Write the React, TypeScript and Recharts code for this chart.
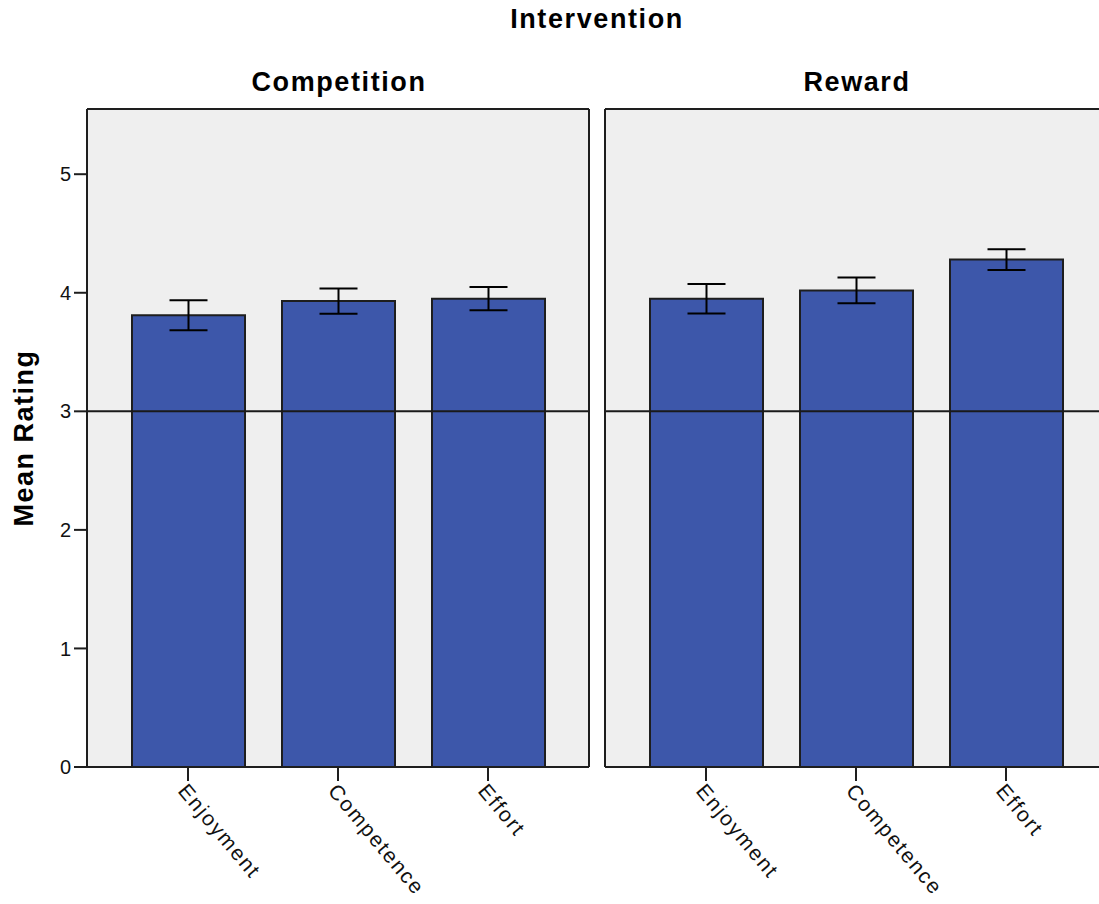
import React from 'react';
import { BarChart, Bar, XAxis, YAxis, CartesianGrid, ErrorBar, ReferenceLine, Label } from 'recharts';

// values
const categories = ['Enjoyment', 'Competence', 'Effort'];
const competitionMeans = [3.81, 3.93, 3.95];
const competitionErr = [0.127, 0.106, 0.098];
const rewardMeans = [3.95, 4.02, 4.28];
const rewardErr = [0.124, 0.109, 0.087];
const yTicks = [0, 1, 2, 3, 4, 5];
const yMax = 5.55;
const midpoint = 3;

const FONT = '"Liberation Sans", Arial, sans-serif';
const FRAME = '#1e1e1e';
const BAR_BLUE = '#3d57aa';
const PANEL_BG = '#efefef';

const competitionData = categories.map((name, i) => ({ name, mean: competitionMeans[i], err: competitionErr[i] }));
const rewardData = categories.map((name, i) => ({ name, mean: rewardMeans[i], err: rewardErr[i] }));

const SlantTick = (props: any) => {
  const { x, y, payload } = props;
  return (
    <g transform={`translate(${x},${y})`}>
      <text
        transform="rotate(50)"
        x={1}
        dy="0.72em"
        textAnchor="start"
        fontFamily={FONT}
        fontSize={21}
        letterSpacing={1.8}
        fill="#111"
      >
        {payload.value}
      </text>
    </g>
  );
};

const MeanRatingLabel = (props: any) => {
  const { viewBox } = props;
  const cx = 33;
  const cy = viewBox.y + viewBox.height / 2;
  return (
    <text
      x={cx}
      y={cy}
      transform={`rotate(-90, ${cx}, ${cy})`}
      textAnchor="middle"
      fontFamily={FONT}
      fontWeight="bold"
      fontSize={27}
      letterSpacing={1.5}
      fill="#000"
    >
      Mean Rating
    </text>
  );
};

const titleStyle: React.CSSProperties = {
  position: 'absolute',
  fontFamily: FONT,
  fontWeight: 'bold',
  fontSize: 27,
  letterSpacing: 1.6,
  lineHeight: '27px',
  textAlign: 'center',
  color: '#000',
  whiteSpace: 'nowrap',
};

type PanelProps = {
  data: { name: string; mean: number; err: number }[];
  width: number;
  marginLeft: number;
  marginRight: number;
  showTicks: boolean;
};

// axes of size 0 are not drawn, so the frame axes get 1px and the margins give it back
const Panel: React.FC<PanelProps> = ({ data, width, marginLeft, marginRight, showTicks }) => (
  <BarChart
    width={width}
    height={904}
    data={data}
    margin={{ top: 108, right: marginRight, bottom: 0, left: marginLeft }}
    barSize={113}
  >
    <CartesianGrid fill={PANEL_BG} horizontal={false} vertical={false} />
    <XAxis
      xAxisId="bottom"
      dataKey="name"
      height={137}
      padding={{ left: 26, right: 26 }}
      axisLine={{ stroke: FRAME, strokeWidth: 2 }}
      tickLine={{ stroke: FRAME, strokeWidth: 2 }}
      tickSize={14}
      tickMargin={0}
      interval={0}
      tick={<SlantTick />}
    />
    <XAxis
      xAxisId="top"
      orientation="top"
      dataKey="name"
      height={1}
      tick={false}
      tickLine={false}
      axisLine={{ stroke: FRAME, strokeWidth: 2 }}
    />
    <YAxis
      yAxisId="left"
      domain={[0, yMax]}
      ticks={yTicks}
      width={showTicks ? 87 : 1}
      axisLine={{ stroke: FRAME, strokeWidth: 2 }}
      tickLine={showTicks ? { stroke: FRAME, strokeWidth: 2 } : false}
      tickSize={13}
      tickMargin={3}
      tick={showTicks ? { fontFamily: FONT, fontSize: 20, fill: '#111' } : false}
      allowDataOverflow
    >
      {showTicks && <Label content={<MeanRatingLabel />} />}
    </YAxis>
    <YAxis
      yAxisId="right"
      orientation="right"
      domain={[0, yMax]}
      width={1}
      tick={false}
      tickLine={false}
      axisLine={{ stroke: FRAME, strokeWidth: 2 }}
    />
    <Bar
      dataKey="mean"
      xAxisId="bottom"
      yAxisId="left"
      fill={BAR_BLUE}
      stroke={FRAME}
      strokeWidth={2}
      isAnimationActive={false}
    >
      <ErrorBar dataKey="err" width={19} stroke="#000" strokeWidth={2} direction="y" />
    </Bar>
    <ReferenceLine y={midpoint} xAxisId="bottom" yAxisId="left" stroke="#1a1a1a" strokeWidth={2} />
  </BarChart>
);

export default function App() {
  return (
    <div
      style={{
        position: 'absolute',
        left: 0,
        top: 0,
        width: 1099,
        height: 904,
        overflow: 'hidden',
        background: '#fff',
      }}
    >
      <div style={{ ...titleStyle, left: 397, width: 400, top: 6 }}>Intervention</div>
      <div style={{ ...titleStyle, left: 139, width: 400, top: 69 }}>Competition</div>
      <div style={{ ...titleStyle, left: 657, width: 400, top: 69 }}>Reward</div>

      <div style={{ position: 'absolute', left: 0, top: 0 }}>
        <Panel data={competitionData} width={600} marginLeft={0} marginRight={10} showTicks />
      </div>
      <div style={{ position: 'absolute', left: 595, top: 0 }}>
        <Panel data={rewardData} width={520} marginLeft={9} marginRight={7} showTicks={false} />
      </div>
    </div>
  );
}
